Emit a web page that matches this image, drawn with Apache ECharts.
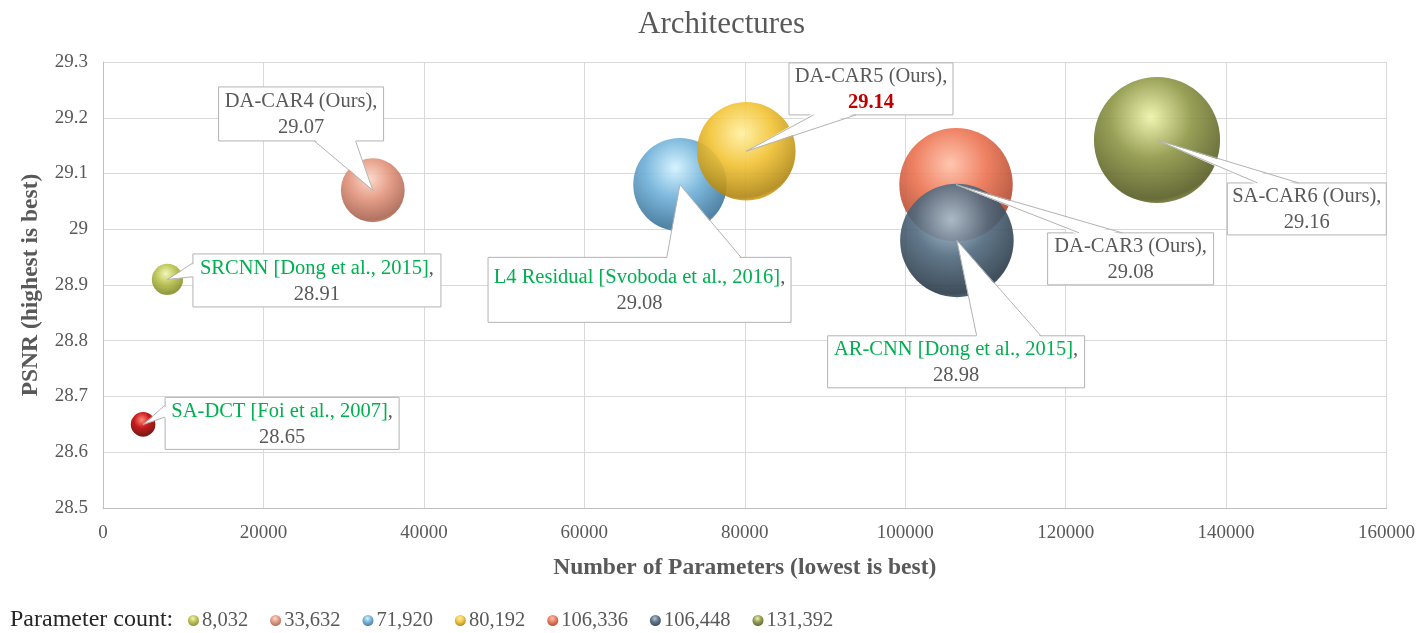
<!DOCTYPE html>
<html>
<head>
<meta charset="utf-8">
<script src="https://cdn.jsdelivr.net/npm/echarts@6/dist/echarts.min.js"></script>
<style>
  html, body { margin: 0; padding: 0; background: #ffffff; }
  #chart { width: 1418px; height: 633px; }
</style>
</head>
<body>
<div id="chart"></div>
<script>
// Models, their parameter counts (x), PSNR in dB (y) and bubble sizes
const models = [
  'SA-DCT [Foi et al., 2007]',
  'SRCNN [Dong et al., 2015]',
  'DA-CAR4 (Ours)',
  'L4 Residual [Svoboda et al., 2016]',
  'DA-CAR5 (Ours)',
  'DA-CAR3 (Ours)',
  'AR-CNN [Dong et al., 2015]',
  'SA-CAR6 (Ours)'
];
const paramCounts = [5000, 8032, 33632, 71920, 80192, 106336, 106448, 131392];
const psnrValues = [28.65, 28.91, 29.07, 29.08, 29.14, 29.08, 28.98, 29.16];
const bubbleValues = [5000, 8032, 33632, 71920, 80192, 106336, 106448, 131392];
// SA-DCT is not a network, so it has no entry in the parameter-count legend
const inLegend = [false, true, true, true, true, true, true, true];

const FONT = "'Liberation Serif', 'Times New Roman', serif";
const GREY = '#595959';
const GREEN = '#00b050';
const BORDER = '#b3b3b3';
const highlighted = 'DA-CAR5 (Ours)';

// sphere shading: [highlight, base, shadow]
const palette = [
  ['#ff7a6a', '#c00000', '#6a0000'],
  ['#f1f5b0', '#b7bf48', '#858c2c'],
  ['#fcd6c6', '#e2937b', '#a86450'],
  ['#d2f2ff', '#6eb0d8', '#3d7499'],
  ['#fff0a0', '#f2c232', '#b08612'],
  ['#ffc0a8', '#ec7250', '#a9462c'],
  ['#a8c2d4', '#50697e', '#2a3a48'],
  ['#eef3a8', '#8d9544', '#575c24']
];

// callout boxes: offset of box centre from the bubble centre (px), box size,
// and where the pointer meets the box edge (fractions along that edge)
const callouts = [
  { dx: 139,   dy: -1,    w: 234, h: 52, side: 'left',   a: 0.15, b: 0.38 },
  { dx: 149.5, dy: 1,     w: 248, h: 53, side: 'left',   a: 0.17, b: 0.43 },
  { dx: -71.7, dy: -76.3, w: 165, h: 54, side: 'bottom', a: 0.58, b: 0.83 },
  { dx: -40.4, dy: 105.2, w: 303, h: 65, side: 'top',    a: 0.59, b: 0.835 },
  { dx: 124.7, dy: -62.3, w: 164, h: 52, side: 'bottom', a: 0.15, b: 0.41 },
  { dx: 174.6, dy: 74.2,  w: 166, h: 52, side: 'top',    a: 0.19, b: 0.45 },
  { dx: -0.8,  dy: 121.4, w: 257, h: 52, side: 'top',    a: 0.58, b: 0.83 },
  { dx: 149.8, dy: 68.9,  w: 159, h: 52, side: 'top',    a: 0.19, b: 0.45 }
];

const SIZE_SCALE = 0.348; // diameter in px per sqrt(parameter)

function sphere(c) {
  return {
    type: 'radial', x: 0.45, y: 0.32, r: 0.72,
    colorStops: [
      { offset: 0, color: c[0] },
      { offset: 0.45, color: c[1] },
      { offset: 0.9, color: c[2] },
      { offset: 1, color: c[1] }
    ]
  };
}

const seriesNames = models.map((m, i) =>
  inLegend[i] ? paramCounts[i].toLocaleString('en-US') : m);

const bubbleSeries = models.map((m, i) => ({
  name: seriesNames[i],
  type: 'scatter',
  data: [[paramCounts[i], psnrValues[i], bubbleValues[i]]],
  symbol: 'circle',
  symbolSize: v => SIZE_SCALE * Math.sqrt(v[2]),
  itemStyle: { color: sphere(palette[i]), opacity: 0.9 },
  emphasis: { disabled: true },
  silent: true,
  z: 2
}));

const LABEL_SIZE = 20.5;
const rich = {
  cited: { fill: GREEN, fontSize: LABEL_SIZE, fontFamily: FONT, lineHeight: 26 },
  ours: { fill: GREY, fontSize: LABEL_SIZE, fontFamily: FONT, lineHeight: 26 },
  sep: { fill: GREY, fontSize: LABEL_SIZE, fontFamily: FONT, lineHeight: 26 },
  val: { fill: GREY, fontSize: LABEL_SIZE, fontFamily: FONT, lineHeight: 26 },
  best: { fill: '#c00000', fontSize: LABEL_SIZE, fontWeight: 'bold', fontFamily: FONT, lineHeight: 26 }
};

function renderCallout(params, api) {
  const i = params.dataIndex;
  const c = callouts[i];
  const tip = api.coord([api.value(0), api.value(1)]);
  const cx = tip[0] + c.dx, cy = tip[1] + c.dy;
  const x0 = cx - c.w / 2, y0 = cy - c.h / 2;
  let p1, p2, inset;
  if (c.side === 'left') {
    p1 = [x0, y0 + c.h * c.a]; p2 = [x0, y0 + c.h * c.b]; inset = [2, 0];
  } else if (c.side === 'right') {
    p1 = [x0 + c.w, y0 + c.h * c.a]; p2 = [x0 + c.w, y0 + c.h * c.b]; inset = [-2, 0];
  } else if (c.side === 'top') {
    p1 = [x0 + c.w * c.a, y0]; p2 = [x0 + c.w * c.b, y0]; inset = [0, 2];
  } else {
    p1 = [x0 + c.w * c.a, y0 + c.h]; p2 = [x0 + c.w * c.b, y0 + c.h]; inset = [0, -2];
  }
  const q1 = [p1[0] + inset[0], p1[1] + inset[1]];
  const q2 = [p2[0] + inset[0], p2[1] + inset[1]];
  const name = models[i];
  const nameKey = name.indexOf('(Ours)') >= 0 ? 'ours' : 'cited';
  const valKey = name === highlighted ? 'best' : 'val';
  const text = '{' + nameKey + '|' + name + '}{sep|,}\n{' + valKey + '|' +
    psnrValues[i].toFixed(2) + '}';
  return {
    type: 'group',
    children: [
      { type: 'rect', shape: { x: x0, y: y0, width: c.w, height: c.h },
        style: { fill: '#ffffff', stroke: BORDER, lineWidth: 1 } },
      { type: 'polygon', shape: { points: [q1, tip, q2] },
        style: { fill: '#ffffff', stroke: null } },
      { type: 'polyline', shape: { points: [p1, tip, p2] },
        style: { fill: null, stroke: BORDER, lineWidth: 1 } },
      { type: 'text', x: cx, y: cy + 1,
        style: { text: text, rich: rich, align: 'center', verticalAlign: 'middle',
                 fontFamily: FONT, fontSize: LABEL_SIZE, fill: GREY } }
    ]
  };
}

const calloutSeries = {
  type: 'custom',
  name: 'callouts',
  coordinateSystem: 'cartesian2d',
  data: models.map((m, i) => [paramCounts[i], psnrValues[i]]),
  encode: { x: 0, y: 1 },
  renderItem: renderCallout,
  silent: true,
  clip: false,
  z: 10
};

const chart = echarts.init(document.getElementById('chart'), null, { renderer: 'canvas' });
chart.setOption({
  animation: false,
  backgroundColor: '#ffffff',
  title: {
    text: 'Architectures',
    left: 633,
    top: 4,
    textStyle: { fontFamily: FONT, fontSize: 31, fontWeight: 'normal', color: GREY }
  },
  grid: { left: 103, right: 30, top: 62, bottom: 125 },
  xAxis: {
    type: 'value',
    min: 0, max: 160000, interval: 20000,
    name: 'Number of Parameters (lowest is best)',
    nameLocation: 'middle',
    nameGap: 48,
    nameTextStyle: { fontFamily: FONT, fontSize: 23.5, fontWeight: 'bold', color: GREY },
    axisLine: { show: true, lineStyle: { color: '#bfbfbf', width: 1 } },
    axisTick: { show: false },
    axisLabel: { formatter: v => String(v), fontFamily: FONT, fontSize: 19, color: GREY, margin: 16 },
    splitLine: { show: true, lineStyle: { color: '#d9d9d9', width: 1 } }
  },
  yAxis: {
    type: 'value',
    min: 28.5, max: 29.3, interval: 0.1,
    name: 'PSNR (highest is best)',
    nameLocation: 'middle',
    nameGap: 60,
    nameTextStyle: { fontFamily: FONT, fontSize: 23.5, fontWeight: 'bold', color: GREY },
    axisLine: { show: true, lineStyle: { color: '#bfbfbf', width: 1 } },
    axisTick: { show: false },
    axisLabel: { formatter: v => String(+v.toFixed(1)), fontFamily: FONT, fontSize: 19, color: GREY, margin: 15 },
    splitLine: { show: true, lineStyle: { color: '#d9d9d9', width: 1 } }
  },
  legend: {
    data: seriesNames.filter((n, i) => inLegend[i]),
    left: 183,
    top: 605,
    orient: 'horizontal',
    icon: 'circle',
    itemWidth: 11,
    itemHeight: 11,
    itemGap: 22,
    selectedMode: false,
    textStyle: { fontFamily: FONT, fontSize: 20.5, color: GREY, padding: [0, 0, 0, -2] }
  },
  graphic: [{
    type: 'text',
    left: 10,
    top: 608,
    style: { text: 'Parameter count:', fontFamily: FONT, fontSize: 24, fill: '#262626' }
  }],
  series: bubbleSeries.concat([calloutSeries])
});
</script>
</body>
</html>
